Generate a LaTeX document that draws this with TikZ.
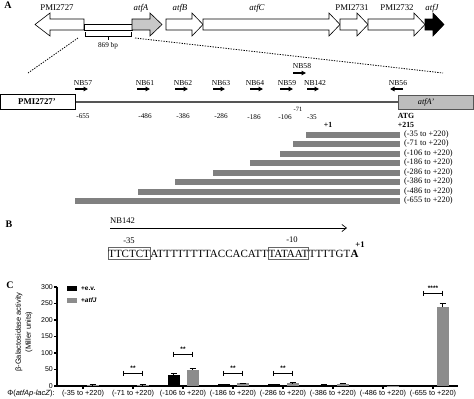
\documentclass[tikz,border=0pt]{standalone}
\usepackage{fontspec}
\setmainfont{Liberation Serif}
\newfontfamily\arialf{Liberation Sans}
\usetikzlibrary{arrows.meta}
\definecolor{fraggray}{HTML}{808080}
\definecolor{lightg}{HTML}{C8C8C8}
\definecolor{boxg}{HTML}{BDBDBD}
\definecolor{lineg}{HTML}{555555}
\definecolor{bargray}{HTML}{8C8C8C}
\definecolor{boxedge}{HTML}{666666}
\newcommand\geneR[4]{\draw[gene,fill=#4] (#1,19) -- (#2,19) -- (#2,13) -- (#3,24.5) -- (#2,36) -- (#2,30) -- (#1,30) -- cycle;}
\begin{document}
\begin{tikzpicture}[x=1pt,y=-1pt,
  gene/.style={draw, line width=0.6pt},
  glab/.style={font=\fontsize{8.8}{10}\selectfont, inner sep=0pt},
  panel/.style={font=\bfseries\fontsize{10}{12}\selectfont, inner sep=0pt},
  nbl/.style={font=\fontsize{7.6}{9}\selectfont, inner sep=0pt},
  posl/.style={font=\fontsize{7.2}{9}\selectfont, inner sep=0pt},
  primer/.style={line width=1.2pt, -{Triangle[length=4.5pt,width=4.5pt]}},
  frag/.style={fill=fraggray},
  fragl/.style={font=\fontsize{8.3}{10}\selectfont, inner sep=0pt, anchor=west},
  dots/.style={line width=0.8pt, dash pattern=on 1.3pt off 1.3pt},
  seq/.style={font=\fontsize{11}{13}\selectfont, inner xsep=0pt, inner ysep=2.6pt, text height=7.3pt, text depth=0pt, anchor=base west},
  seqbox/.style={draw=boxedge, line width=0.6pt},
  sf/.style={font=\arialf\fontsize{7.3}{10}\selectfont, inner sep=0pt},
  sfb/.style={font=\arialf\bfseries\fontsize{6.5}{8}\selectfont, inner sep=0pt},
  ytl/.style={font=\arialf\fontsize{7}{8}\selectfont, inner sep=0pt, anchor=east},
  axis/.style={line width=1.2pt},
  ebar/.style={line width=0.7pt},
  sig/.style={line width=0.7pt}
]
\useasboundingbox (0,0) rectangle (474,399);

% ---------------- Panel A: operon ----------------
\node[panel] (pA) at (8,5) {A};
\draw[gene,fill=white] (84,19) -- (50,19) -- (50,13) -- (35,24.5) -- (50,36) -- (50,30) -- (84,30) -- cycle;
\draw[gene] (84,24) rectangle (132,30);
\geneR{132}{150}{162}{lightg}
\geneR{166}{192}{203}{white}
\geneR{203}{329}{340}{white}
\geneR{340}{357}{368}{white}
\geneR{368}{414}{425}{white}
\geneR{425}{433}{444}{black}
\node[glab] (g1) at (57,8) {PMI2727};
\node[glab] (g2) at (141,8) {\itshape atfA};
\node[glab] (g3) at (180,8) {\itshape atfB};
\node[glab] (g4) at (257,8) {\itshape atfC};
\node[glab] (g5) at (352,8) {PMI2731};
\node[glab] (g6) at (397,8) {PMI2732};
\node[glab] (g7) at (432,8) {\itshape atfJ};
% bracket 869 bp
\draw[line width=0.6pt] (85,32) -- (85,36) -- (131,36) -- (131,32);
\draw[line width=0.6pt] (108,36) -- (108,40);
\node[font=\fontsize{7.2}{9}\selectfont, inner sep=0pt] (bp) at (108,46) {869 bp};
% zoom lines
\coordinate (zl1) at (78,38); \coordinate (zl2) at (28,73);
\coordinate (zr1) at (135,38); \coordinate (zr2) at (443,73);
\draw[dots] (zl1) -- (zl2);
\draw[dots] (zr1) -- (zr2);

% ---------------- Panel A: promoter region ----------------
\draw[lineg, line width=2pt] (75,102) -- (398,102);
\draw[line width=0.7pt, fill=white] (0.5,94.5) rectangle (75,109);
\node[font=\bfseries\fontsize{8.8}{10}\selectfont, inner sep=0pt] (p27) at (37,101.5) {PMI2727'};
\draw[lineg, line width=0.7pt, fill=boxg] (398,95.5) rectangle (473.5,109);
\node[font=\itshape\fontsize{8.3}{10}\selectfont, inner sep=0pt] (afa) at (426,102) {atfA'};
% primers
\foreach \nm/\xs/\xe/\xl in {NB57/75/88/83, NB61/137/150/145, NB62/175/188/183, NB63/213/225/221, NB64/250/263/255, NB59/280/293/287, NB142/307/319/315}{
  \node[nbl] (l\nm) at (\xl,83) {\nm};
  \draw[primer] (\xs,89) -- (\xe,89);
}
\node[nbl] (lNB58) at (302,66) {NB58};
\draw[primer] (293,73) -- (306,73);
\node[nbl] (lNB56) at (398,83) {NB56};
\draw[primer] (403,89) -- (390,89);
% positions
\node[posl] (q1) at (83,116) {-655};
\node[posl] (q2) at (145,116) {-486};
\node[posl] (q3) at (183,116) {-386};
\node[posl] (q4) at (221,116) {-286};
\node[posl] (q5) at (254,117) {-186};
\node[posl] (q6) at (285,117) {-106};
\node[font=\fontsize{6.5}{8}\selectfont, inner sep=0pt] (q7) at (298,109.5) {-71};
\node[posl] (q8) at (312,117) {-35};
\node[font=\bfseries\fontsize{7.8}{9}\selectfont, inner sep=0pt] (plus1) at (328,125) {+1};
\node[font=\bfseries\fontsize{7.8}{9}\selectfont, inner sep=0pt] (atg) at (406,116) {ATG};
\node[font=\bfseries\fontsize{7.8}{9}\selectfont, inner sep=0pt] (p215) at (406,125) {+215};
% fragments
\foreach \xs/\yy/\lab in {306/134.5/-35, 293/144/-71, 280/153.5/-106, 250/163/-186, 213/172.5/-286, 175/182/-386, 138/191.5/-486, 75/201/-655}{
  \fill[frag] (\xs,\yy-3) rectangle (400,\yy+3);
  \node[fragl] (f\lab) at (404,\yy) {(\lab\ to +220)};
}

% ---------------- Panel B ----------------
\node[panel] (pB) at (9,224) {B};
\node[font=\fontsize{8.6}{10}\selectfont, inner sep=0pt, anchor=west] (nb142) at (110,221) {NB142};
\coordinate (b1) at (110,228); \coordinate (b2) at (347,228);
\draw[line width=0.7pt, -{Straight Barb[length=4.5pt,width=7pt]}] (b1) -- (b2);
\node[font=\fontsize{8.6}{10}\selectfont, inner sep=0pt] (m35) at (129,241) {-35};
\node[font=\fontsize{8.6}{10}\selectfont, inner sep=0pt] (m10) at (292,240) {-10};
\node[font=\bfseries\fontsize{8.6}{10}\selectfont, inner sep=0pt] (bp1) at (360,244.5) {+1};
\node[seq, seqbox] (s1) at (108,257) {TTCTCT};
\node[seq] (s2) at (s1.base east) {ATTTTTTTTACCACATT};
\node[seq, seqbox] (s3) at (s2.base east) {TATAAT};
\node[seq] (s4) at (s3.base east) {TTTTGT};
\node[seq] (s5) at (s4.base east) {\textbf{A}};

% ---------------- Panel C ----------------
\node[panel] (pC) at (10,285) {C};
\draw[axis] (57,286.5) -- (57,386) -- (458,386);
\foreach \v in {0,50,...,300}{
  \draw[axis] (54,{386-0.33*\v}) -- (57,{386-0.33*\v});
  \node[ytl] (yt\v) at (53,{386-0.33*\v}) {\v};
}
\node[sf, rotate=90, align=center, font=\arialf\fontsize{7.5}{10}\selectfont] (ylab) at (24,332) {β-Galactosidase activity\\(Miller units)};
% legend
\fill[black] (67,286) rectangle (77,290.5);
\fill[bargray] (67,298) rectangle (77,302.5);
\node[sfb, anchor=west] (lg1) at (81,288.3) {+e.v.};
\node[sfb, anchor=west] (lg2) at (81,300.3) {+\textit{atfJ}};
% bars
\foreach \i/\b/\be/\g/\ge/\lab in {0/2/0.6/3/0.8/-35, 1/2/0.6/3/0.8/-71, 2/33/5/50/2.5/-106, 3/5/1/8/1.5/-186, 4/5/1/9/1.5/-286, 5/4/1/7/1.5/-386, 6/1/0.4/1.2/0.4/-486, 7/0.6/0.3/238/11/-655}{
  \pgfmathsetmacro\cx{83+50*\i}
  \fill[black] (\cx-15.5,386) rectangle (\cx-3.5,{386-0.33*\b});
  \fill[bargray] (\cx+3.5,386) rectangle (\cx+15.5,{386-0.33*\g});
  \draw[ebar] (\cx-9.5,{386-0.33*\b}) -- (\cx-9.5,{386-0.33*(\b+\be)});
  \draw[ebar] (\cx-12.5,{386-0.33*(\b+\be)}) -- (\cx-6.5,{386-0.33*(\b+\be)});
  \draw[ebar] (\cx+9.5,{386-0.33*\g}) -- (\cx+9.5,{386-0.33*(\g+\ge)});
  \draw[ebar] (\cx+6.5,{386-0.33*(\g+\ge)}) -- (\cx+12.5,{386-0.33*(\g+\ge)});
  \draw[axis] (\cx,386) -- (\cx,389);
  \node[sf] (xl\i) at (\cx,393.5) {(\lab\ to +220)};
}
\node[sf, font=\arialf\fontsize{7.5}{9}\selectfont] (phi) at (31,393.5) {Φ(\textit{atfAp-lacZ}):};
% significance
\foreach \i/\yy/\st in {1/373/**, 2/354/**, 3/373/**, 4/373/**, 7/293/****}{
  \pgfmathsetmacro\cx{83+50*\i}
  \draw[sig] (\cx-9.5,\yy-2.5) -- (\cx-9.5,\yy+2.5);
  \draw[sig] (\cx-9.5,\yy) -- (\cx+9.5,\yy);
  \draw[sig] (\cx+9.5,\yy-2.5) -- (\cx+9.5,\yy+2.5);
  \node[sfb, anchor=base] (st\i) at (\cx,\yy-2.5) {\st};
}
\end{tikzpicture}
\end{document}
